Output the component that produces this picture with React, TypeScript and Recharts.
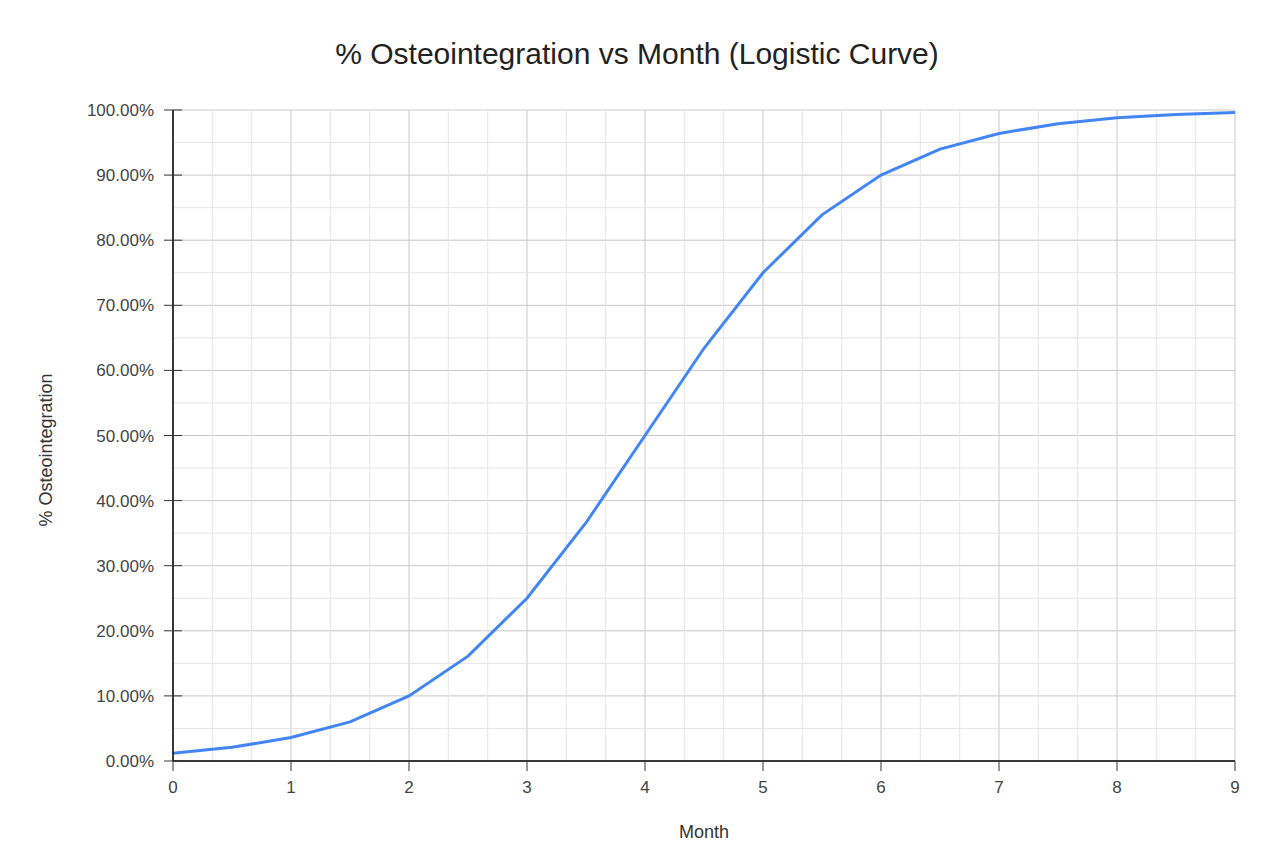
import { LineChart, Line, XAxis, YAxis, CartesianGrid, ReferenceLine } from "recharts";

const months = [0, 0.5, 1, 1.5, 2, 2.5, 3, 3.5, 4, 4.5, 5, 5.5, 6, 6.5, 7, 7.5, 8, 8.5, 9];
const osteo = [
  0.012, 0.021, 0.036, 0.06, 0.1, 0.161, 0.25, 0.366, 0.5, 0.634, 0.75, 0.839, 0.9, 0.94, 0.964,
  0.979, 0.988, 0.993, 0.996,
];

const xTicks = [0, 1, 2, 3, 4, 5, 6, 7, 8, 9];
const yTicks = [0, 0.1, 0.2, 0.3, 0.4, 0.5, 0.6, 0.7, 0.8, 0.9, 1];
const xMinor = [0.333, 0.667, 1.333, 1.667, 2.333, 2.667, 3.333, 3.667, 4.333, 4.667, 5.333, 5.667, 6.333, 6.667, 7.333, 7.667, 8.333, 8.667];
const yMinor = [0.05, 0.15, 0.25, 0.35, 0.45, 0.55, 0.65, 0.75, 0.85, 0.95];

const data = months.map((m, i) => ({ month: m, value: osteo[i] }));

const FONT = "Arial, 'Liberation Sans', sans-serif";

function YTick(props: any) {
  const { x, y, payload } = props;
  return (
    <g>
      <line x1={x + 10} x2={x + 28} y1={y} y2={y} stroke="#333" strokeWidth={1} />
      <text x={x} y={y} dy={6} textAnchor="end" fill="#444" fontSize={17} fontFamily={FONT}>
        {(payload.value * 100).toFixed(2)}%
      </text>
    </g>
  );
}

export default function App() {
  return (
    <div style={{ position: "absolute", left: 0, top: 0, width: 1264, height: 861, background: "#fff" }}>
      <div
        style={{
          position: "absolute",
          left: 0,
          width: 1274,
          top: 37,
          textAlign: "center",
          fontFamily: FONT,
          fontSize: 30,
          color: "#222",
        }}
      >
        % Osteointegration vs Month (Logistic Curve)
      </div>
      <div
        style={{
          position: "absolute",
          left: 46,
          top: 450,
          transform: "translate(-50%, -50%) rotate(-90deg)",
          whiteSpace: "nowrap",
          fontFamily: FONT,
          fontSize: 18,
          color: "#333",
        }}
      >
        % Osteointegration
      </div>
      <div
        style={{
          position: "absolute",
          left: 704,
          top: 832,
          transform: "translate(-50%, -50%)",
          whiteSpace: "nowrap",
          fontFamily: FONT,
          fontSize: 18,
          color: "#333",
        }}
      >
        Month
      </div>
      <LineChart width={1264} height={861} data={data} margin={{ top: 110, right: 29, bottom: 70, left: 0 }}>
        {xMinor.map((v) => (
          <ReferenceLine key={"xm" + v} x={v} stroke="#e6e6e6" strokeWidth={1} ifOverflow="hidden" />
        ))}
        {yMinor.map((v) => (
          <ReferenceLine key={"ym" + v} y={v} stroke="#e6e6e6" strokeWidth={1} ifOverflow="hidden" />
        ))}
        <CartesianGrid stroke="#c8c8c8" strokeWidth={1} />
        <XAxis
          dataKey="month"
          type="number"
          domain={[0, 9]}
          ticks={xTicks}
          height={30}
          tickSize={10}
          tickMargin={10}
          axisLine={{ stroke: "#000", strokeWidth: 1.5 }}
          tickLine={{ stroke: "#333" }}
          tick={{ fill: "#444", fontSize: 17, fontFamily: FONT }}
          allowDataOverflow
        />
        <YAxis
          type="number"
          domain={[0, 1]}
          ticks={yTicks}
          width={173}
          tickSize={9}
          tickMargin={10}
          axisLine={{ stroke: "#000", strokeWidth: 1.5 }}
          tickLine={false}
          tick={<YTick />}
          allowDataOverflow
        />
        <Line
          type="linear"
          dataKey="value"
          stroke="#4285F4"
          strokeWidth={3}
          dot={false}
          isAnimationActive={false}
        />
      </LineChart>
    </div>
  );
}
